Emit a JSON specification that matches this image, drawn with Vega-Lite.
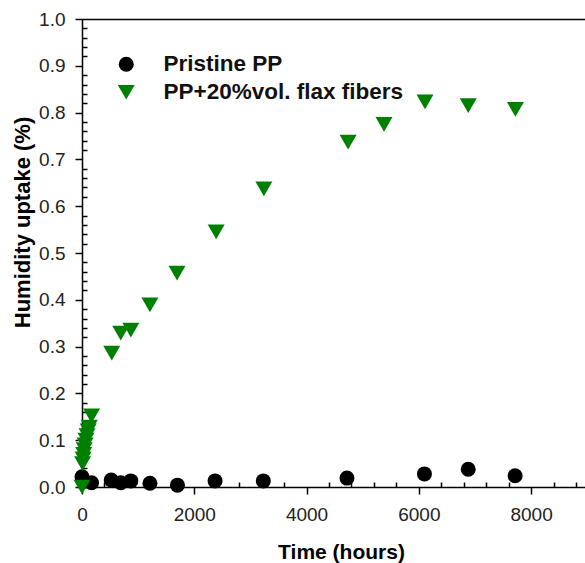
{
  "$schema": "https://vega.github.io/schema/vega-lite/v6.json",
  "width": 503,
  "height": 468,
  "autosize": "none",
  "padding": {"left": 82, "top": 19, "right": 0, "bottom": 76},
  "background": "white",
  "config": {
    "view": {"stroke": null},
    "font": "Liberation Sans",
    "axis": {"grid": false, "labelFlush": false, "domainColor": "black", "tickColor": "black", "domainWidth": 1.5, "tickWidth": 1.5, "labelFont": "Liberation Sans", "titleFont": "Liberation Sans", "labelColor": "#222", "titleColor": "black"}
  },
  "data": {"values": [
    {"time": 0, "uptake": 0.022, "series": "Pristine PP"},
    {"time": 24, "uptake": 0.012, "series": "Pristine PP"},
    {"time": 170, "uptake": 0.009, "series": "Pristine PP"},
    {"time": 520, "uptake": 0.015, "series": "Pristine PP"},
    {"time": 690, "uptake": 0.009, "series": "Pristine PP"},
    {"time": 870, "uptake": 0.013, "series": "Pristine PP"},
    {"time": 1210, "uptake": 0.008, "series": "Pristine PP"},
    {"time": 1700, "uptake": 0.004, "series": "Pristine PP"},
    {"time": 2370, "uptake": 0.013, "series": "Pristine PP"},
    {"time": 3230, "uptake": 0.013, "series": "Pristine PP"},
    {"time": 4720, "uptake": 0.019, "series": "Pristine PP"},
    {"time": 6100, "uptake": 0.028, "series": "Pristine PP"},
    {"time": 6880, "uptake": 0.038, "series": "Pristine PP"},
    {"time": 7715, "uptake": 0.024, "series": "Pristine PP"},
    {"time": 0, "uptake": 0.0, "series": "PP+20%vol. flax fibers"},
    {"time": 10, "uptake": 0.05, "series": "PP+20%vol. flax fibers"},
    {"time": 20, "uptake": 0.06, "series": "PP+20%vol. flax fibers"},
    {"time": 30, "uptake": 0.07, "series": "PP+20%vol. flax fibers"},
    {"time": 40, "uptake": 0.08, "series": "PP+20%vol. flax fibers"},
    {"time": 55, "uptake": 0.09, "series": "PP+20%vol. flax fibers"},
    {"time": 70, "uptake": 0.1, "series": "PP+20%vol. flax fibers"},
    {"time": 90, "uptake": 0.11, "series": "PP+20%vol. flax fibers"},
    {"time": 110, "uptake": 0.12, "series": "PP+20%vol. flax fibers"},
    {"time": 130, "uptake": 0.128, "series": "PP+20%vol. flax fibers"},
    {"time": 170, "uptake": 0.152, "series": "PP+20%vol. flax fibers"},
    {"time": 530, "uptake": 0.286, "series": "PP+20%vol. flax fibers"},
    {"time": 690, "uptake": 0.329, "series": "PP+20%vol. flax fibers"},
    {"time": 870, "uptake": 0.335, "series": "PP+20%vol. flax fibers"},
    {"time": 1210, "uptake": 0.389, "series": "PP+20%vol. flax fibers"},
    {"time": 1693, "uptake": 0.457, "series": "PP+20%vol. flax fibers"},
    {"time": 2390, "uptake": 0.545, "series": "PP+20%vol. flax fibers"},
    {"time": 3240, "uptake": 0.637, "series": "PP+20%vol. flax fibers"},
    {"time": 4740, "uptake": 0.737, "series": "PP+20%vol. flax fibers"},
    {"time": 5380, "uptake": 0.775, "series": "PP+20%vol. flax fibers"},
    {"time": 6110, "uptake": 0.823, "series": "PP+20%vol. flax fibers"},
    {"time": 6880, "uptake": 0.815, "series": "PP+20%vol. flax fibers"},
    {"time": 7720, "uptake": 0.807, "series": "PP+20%vol. flax fibers"}
  ]},
  "layer": [
    {
      "mark": {"type": "point", "filled": true, "opacity": 1, "strokeWidth": 0},
      "encoding": {
        "x": {"field": "time", "type": "quantitative", "scale": {"domain": [0, 8960], "nice": false, "zero": false},
          "axis": {"orient": "bottom", "values": [0, 2000, 4000, 6000, 8000], "format": "d", "tickSize": 7, "labelFontSize": 19, "labelPadding": 11, "title": "Time (hours)", "titleFontSize": 21, "titleFontWeight": "bold", "titleX": 259, "titleY": 71, "titleBaseline": "alphabetic", "titleAlign": "center", "titleAnchor": null}},
        "y": {"field": "uptake", "type": "quantitative", "scale": {"domain": [0, 1], "nice": false},
          "axis": {"orient": "left", "values": [0, 0.1, 0.2, 0.3, 0.4, 0.5, 0.6, 0.7, 0.8, 0.9, 1.0], "format": ".1f", "tickSize": 7, "labelFontSize": 19, "labelPadding": 10, "title": "Humidity uptake (%)", "titleFontSize": 22, "titleFontWeight": "bold", "titleX": -53, "titleY": 203, "titleAngle": 270, "titleBaseline": "alphabetic", "titleAlign": "center", "titleAnchor": null}},
        "color": {"field": "series", "type": "nominal", "scale": {"domain": ["Pristine PP", "PP+20%vol. flax fibers"], "range": ["black", "#008000"]},
          "legend": {"title": null, "orient": "none", "legendX": 33, "legendY": 34, "padding": 0, "labelFontSize": 22.5, "labelFontWeight": "bold", "labelColor": "#111", "labelLimit": 0, "labelOffset": 26, "rowPadding": 5, "symbolStrokeWidth": 0}},
        "shape": {"field": "series", "type": "nominal", "scale": {"domain": ["Pristine PP", "PP+20%vol. flax fibers"], "range": ["circle", "triangle-down"]}},
        "size": {"field": "series", "type": "nominal", "scale": {"domain": ["Pristine PP", "PP+20%vol. flax fibers"], "range": [225, 289]}}
      }
    },
    {
      "mark": {"type": "point", "opacity": 0},
      "encoding": {
        "x": {"field": "time", "type": "quantitative",
          "axis": {"orient": "bottom", "values": [400, 800, 1200, 1600, 2400, 2800, 3200, 3600, 4400, 4800, 5200, 5600, 6400, 6800, 7200, 7600, 8400, 8800], "tickSize": -5, "labels": false, "domain": false, "title": null}},
        "y": {"field": "uptake", "type": "quantitative",
          "axis": {"orient": "left", "values": [0.02, 0.04, 0.06, 0.08, 0.12, 0.14, 0.16, 0.18, 0.22, 0.24, 0.26, 0.28, 0.32, 0.34, 0.36, 0.38, 0.42, 0.44, 0.46, 0.48, 0.52, 0.54, 0.56, 0.58, 0.62, 0.64, 0.66, 0.68, 0.72, 0.74, 0.76, 0.78, 0.82, 0.84, 0.86, 0.88, 0.92, 0.94, 0.96, 0.98], "tickSize": -5, "labels": false, "domain": false, "title": null}}
      }
    },
    {
      "mark": {"type": "point", "opacity": 0},
      "encoding": {
        "x": {"field": "time", "type": "quantitative",
          "axis": {"orient": "top", "ticks": false, "labels": false, "domain": true, "title": null}},
        "y": {"field": "uptake", "type": "quantitative", "axis": null}
      }
    }
  ],
  "resolve": {"axis": {"x": "independent", "y": "independent"}}
}
